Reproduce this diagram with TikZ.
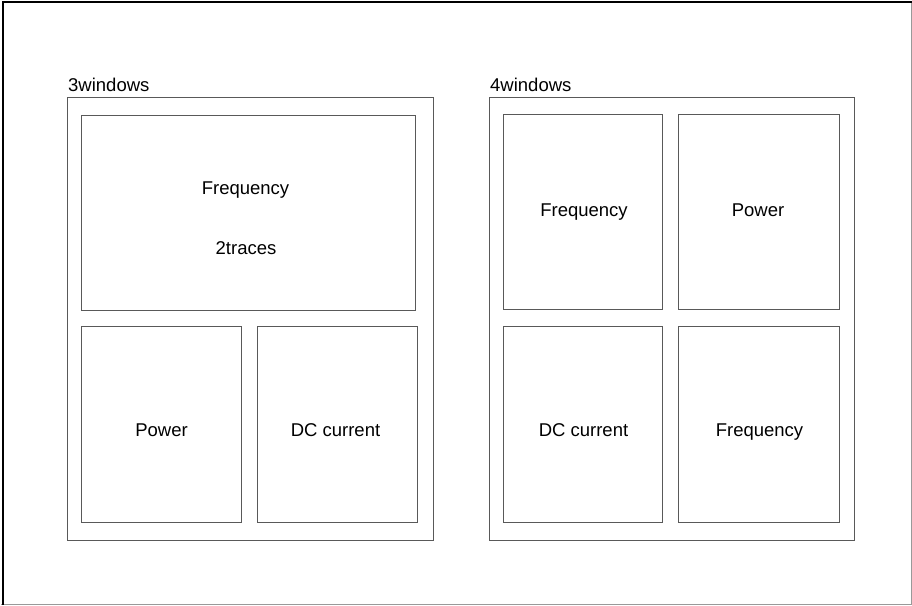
\documentclass[tikz,border=0pt]{standalone}
\usepackage{fontspec}
\setmainfont{Liberation Sans}
\begin{document}
\begin{tikzpicture}[x=1pt,y=-1pt,
  win/.style={draw=black!65,line width=1pt,inner sep=0pt,anchor=north west},
  lab/.style={font=\fontsize{18.5}{22}\selectfont,inner sep=0pt,anchor=base},
  ttl/.style={font=\fontsize{18.5}{22}\selectfont,inner sep=0pt,anchor=base west}]
\useasboundingbox (0,0) rectangle (912,605);
\fill[white] (0,0) rectangle (912,605);
% outer frame
\draw[black!40,line width=1pt] (911.5,1) -- (911.5,604.5) -- (1,604.5);
\draw[black,line width=2pt] (2.5,605) -- (2.5,1.5) -- (912,1.5);
% left group
\node[ttl] (t3) at (68,91) {3windows};
\draw[black!65,line width=1pt] (67,97) rectangle (433,540);
\node[win,minimum width=334pt,minimum height=195pt] (a1) at (81,115) {};
\node[win,minimum width=160pt,minimum height=196pt] (a2) at (81,326) {};
\node[win,minimum width=160pt,minimum height=196pt] (a3) at (257,326) {};
\node[lab] (a1t) at (245.5,194) {Frequency};
\node[lab] (a1u) at (246,254) {2traces};
\node[lab] (a2t) at (161.5,436) {Power};
\node[lab] (a3t) at (335.5,436) {DC current};
% right group
\node[ttl] (t4) at (490,91) {4windows};
\draw[black!65,line width=1pt] (489,97) rectangle (854,540);
\node[win,minimum width=159pt,minimum height=195pt] (b1) at (503,114) {};
\node[win,minimum width=161pt,minimum height=195pt] (b2) at (678,114) {};
\node[win,minimum width=159pt,minimum height=196pt] (b3) at (503,326) {};
\node[win,minimum width=161pt,minimum height=196pt] (b4) at (678,326) {};
\node[lab] (b1t) at (584,216) {Frequency};
\node[lab] (b2t) at (758,216) {Power};
\node[lab] (b3t) at (583.5,436) {DC current};
\node[lab] (b4t) at (759.5,436) {Frequency};
\end{tikzpicture}
\end{document}
